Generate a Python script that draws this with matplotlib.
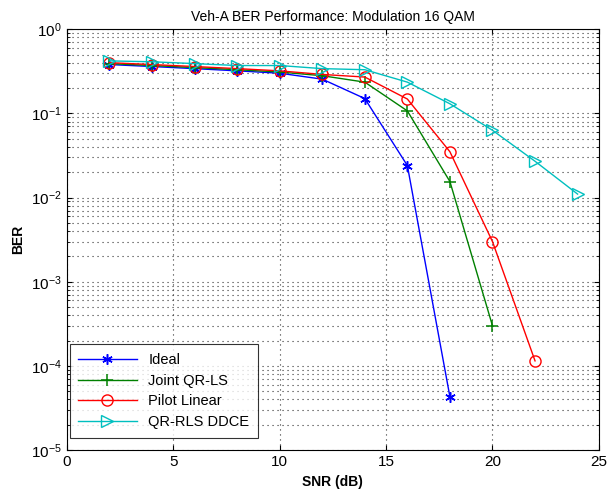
import numpy as np
import matplotlib
matplotlib.use('Agg')
import matplotlib.pyplot as plt

plt.rcParams['font.family'] = ['Liberation Sans', 'DejaVu Sans']

snr_ideal = [2, 4, 6, 8, 10, 12, 14, 16, 18]
ber_ideal = [0.38, 0.36, 0.34, 0.32, 0.30, 0.255, 0.15, 0.024, 4.3e-5]

snr_joint = [2, 4, 6, 8, 10, 12, 14, 16, 18, 20]
ber_joint = [0.39, 0.37, 0.35, 0.33, 0.31, 0.28, 0.235, 0.107, 0.0155, 3.0e-4]

snr_pilot = [2, 4, 6, 8, 10, 12, 14, 16, 18, 20, 22]
ber_pilot = [0.40, 0.38, 0.36, 0.34, 0.32, 0.29, 0.27, 0.148, 0.035, 0.003, 1.15e-4]

snr_qrrls = [2, 4, 6, 8, 10, 12, 14, 16, 18, 20, 22, 24]
ber_qrrls = [0.42, 0.41, 0.39, 0.37, 0.37, 0.34, 0.33, 0.235, 0.13, 0.063, 0.027, 0.011]

fig = plt.figure(figsize=(6.08, 5.03), dpi=100)
ax = fig.add_axes([0.110, 0.105, 0.875, 0.837])

# MATLAB-like asterisk marker
ax.semilogy(snr_ideal, ber_ideal, color='#0000ff', marker=(6, 2, 0), markersize=7.5, mew=1.1, lw=1, label='Ideal')
ax.semilogy(snr_joint, ber_joint, color='#008000', marker='+', markersize=9, mew=1.1, lw=1, label='Joint QR-LS')
ax.semilogy(snr_pilot, ber_pilot, color='#ff0000', marker='o', markersize=8, fillstyle='none', mew=1, lw=1, label='Pilot Linear')
ax.semilogy(snr_qrrls, ber_qrrls, color='#00bfbf', marker='>', markersize=8, fillstyle='none', mew=1, lw=1, label='QR-RLS DDCE')

ax.set_xlim(0, 25)
ax.set_ylim(1e-5, 1)
ax.set_xticks([0, 5, 10, 15, 20, 25])
ax.grid(True, which='major', linestyle=(0, (1, 3.5)), color='#333333', lw=0.8)
ax.grid(True, which='minor', axis='y', linestyle=(0, (1, 3.5)), color='#333333', lw=0.8)
ax.tick_params(which='both', direction='in', top=True, right=True, labelsize=11)
for s in ax.spines.values():
    s.set_linewidth(0.8)

ax.set_title('Veh-A BER Performance: Modulation 16 QAM', fontsize=10)
ax.set_xlabel('SNR (dB)', fontsize=10, fontweight='bold')
ax.set_ylabel('BER', fontsize=10, fontweight='bold')

leg = ax.legend(loc='lower left', bbox_to_anchor=(0.005, 0.03), borderaxespad=0,
                fancybox=False, edgecolor='k', fontsize=10.5, borderpad=0.6,
                handlelength=4.0, labelspacing=0.45)
leg.get_frame().set_linewidth(0.8)

fig.savefig('out.png', dpi=100)
